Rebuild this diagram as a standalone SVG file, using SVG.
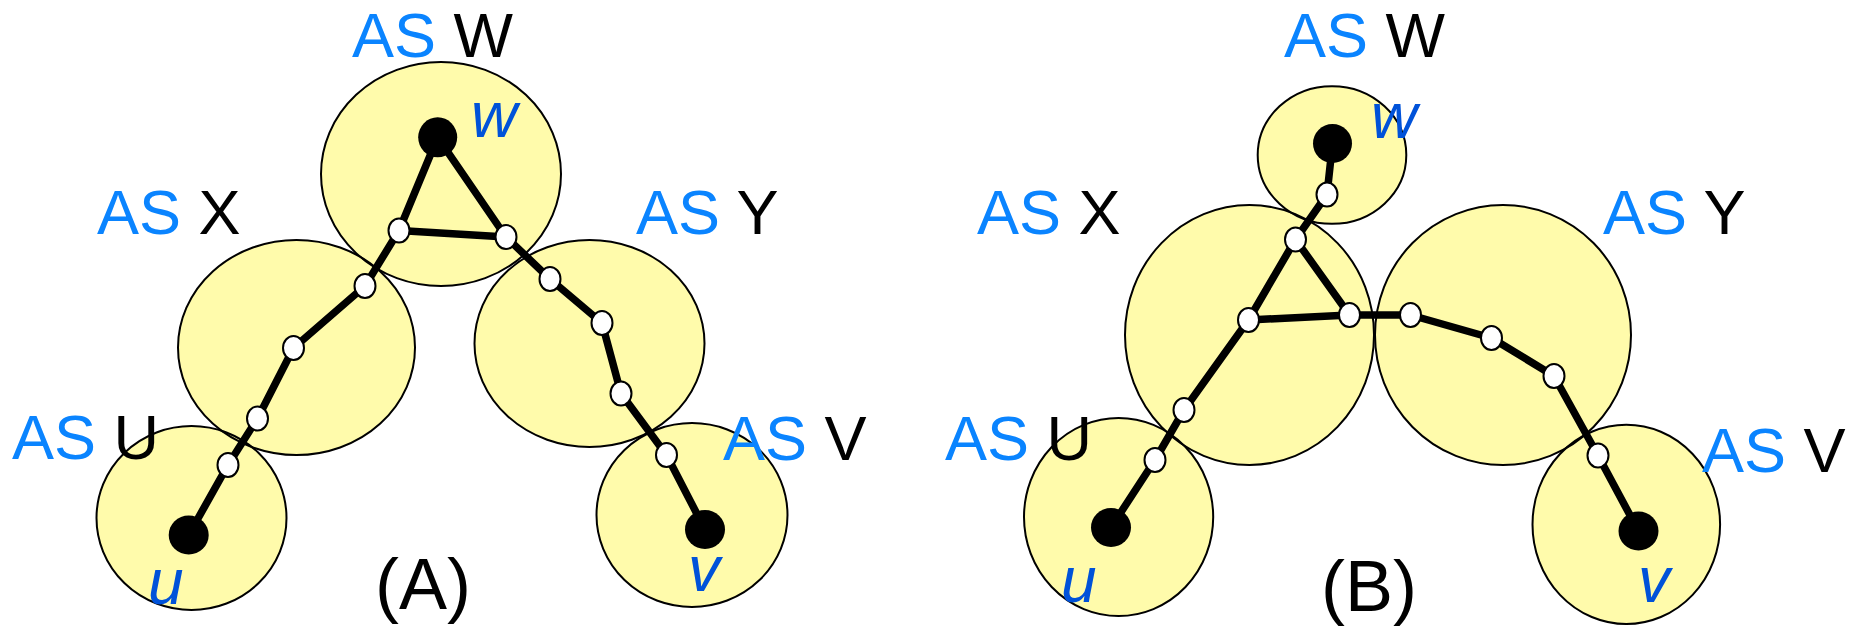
<svg xmlns="http://www.w3.org/2000/svg" xmlns:xlink="http://www.w3.org/1999/xlink" width="1852" height="626" viewBox="0 0 1852 626">
<style>
.asf{fill:#fffbab;stroke:none}
.asl{fill:none;stroke:#000;stroke-width:2}
.e{stroke:#000;stroke-width:7.5;stroke-linecap:round;fill:none}
.r{fill:#000}
.h{fill:#fff;stroke:#000;stroke-width:2}
.lab{font-family:"Liberation Sans",Arial,sans-serif;font-size:63px;fill:#000}
.as{fill:#0a84ff}
.it{font-family:"Liberation Sans",Arial,sans-serif;font-size:64px;font-style:italic;fill:#0052d9}
.cap{font-family:"Liberation Sans",Arial,sans-serif;font-size:72px;fill:#000}
</style>
<rect width="1852" height="626" fill="#fff"/>
<defs>
<ellipse id="aW" cx="441" cy="174" rx="120" ry="112"/>
<ellipse id="aX" cx="296.5" cy="347.5" rx="118.5" ry="107.5"/>
<ellipse id="aY" cx="589.5" cy="343.5" rx="115" ry="103.5"/>
<ellipse id="aU" cx="191.5" cy="518" rx="95" ry="92"/>
<ellipse id="aV" cx="692" cy="515" rx="95.5" ry="92"/>
<ellipse id="bW" cx="1332" cy="155" rx="74.3" ry="68.8"/>
<ellipse id="bX" cx="1249.5" cy="335" rx="124.5" ry="130"/>
<ellipse id="bY" cx="1503" cy="335" rx="128" ry="130"/>
<ellipse id="bU" cx="1118.6" cy="517" rx="94.6" ry="99"/>
<ellipse id="bV" cx="1626.3" cy="524.4" rx="93.8" ry="99.6"/>
</defs>
<g id="A-AS-W"><use xlink:href="#aW" class="asf"/><text class="lab" x="352" y="57"><tspan class="as">AS</tspan> W</text></g>
<g id="A-AS-X"><use xlink:href="#aX" class="asf"/><text class="lab" x="97" y="234"><tspan class="as">AS</tspan> X</text></g>
<g id="A-AS-Y"><use xlink:href="#aY" class="asf"/><text class="lab" x="636" y="234"><tspan class="as">AS</tspan> Y</text></g>
<g id="A-AS-U"><use xlink:href="#aU" class="asf"/><text class="lab" x="12" y="459"><tspan class="as">AS</tspan> U</text></g>
<g id="A-AS-V"><use xlink:href="#aV" class="asf"/></g>
<g id="B-AS-W"><use xlink:href="#bW" class="asf"/><text class="lab" x="1284" y="57"><tspan class="as">AS</tspan> W</text></g>
<g id="B-AS-X"><use xlink:href="#bX" class="asf"/><text class="lab" x="977" y="234"><tspan class="as">AS</tspan> X</text></g>
<g id="B-AS-Y"><use xlink:href="#bY" class="asf"/><text class="lab" x="1603" y="234"><tspan class="as">AS</tspan> Y</text></g>
<g id="B-AS-U"><use xlink:href="#bU" class="asf"/><text class="lab" x="945" y="460"><tspan class="as">AS</tspan> U</text></g>
<g id="B-AS-V"><use xlink:href="#bV" class="asf"/></g>
<g id="as-outlines">
<use xlink:href="#aW" class="asl"/><use xlink:href="#aX" class="asl"/><use xlink:href="#aY" class="asl"/><use xlink:href="#aU" class="asl"/><use xlink:href="#aV" class="asl"/>
<use xlink:href="#bW" class="asl"/><use xlink:href="#bX" class="asl"/><use xlink:href="#bY" class="asl"/><use xlink:href="#bU" class="asl"/><use xlink:href="#bV" class="asl"/>
</g>
<g id="connectors">
<line class="e" x1="437.7" y1="137.3" x2="399" y2="230.5"/>
<line class="e" x1="437.7" y1="137.3" x2="506" y2="237"/>
<line class="e" x1="399" y1="230.5" x2="506" y2="237"/>
<line class="e" x1="399" y1="230.5" x2="365" y2="286"/>
<line class="e" x1="365" y1="286" x2="293.5" y2="348"/>
<line class="e" x1="293.5" y1="348" x2="257.5" y2="418.5"/>
<line class="e" x1="257.5" y1="418.5" x2="228" y2="465"/>
<line class="e" x1="228" y1="465" x2="188.7" y2="535"/>
<line class="e" x1="506" y1="237" x2="550" y2="279"/>
<line class="e" x1="550" y1="279" x2="602" y2="323"/>
<line class="e" x1="602" y1="323" x2="621" y2="393.5"/>
<line class="e" x1="621" y1="393.5" x2="666.5" y2="455"/>
<line class="e" x1="666.5" y1="455" x2="705" y2="529.5"/>
<line class="e" x1="1332.5" y1="143.5" x2="1327" y2="194.5"/>
<line class="e" x1="1327" y1="194.5" x2="1295.5" y2="239.5"/>
<line class="e" x1="1295.5" y1="239.5" x2="1248.5" y2="320"/>
<line class="e" x1="1295.5" y1="239.5" x2="1349.5" y2="315"/>
<line class="e" x1="1248.5" y1="320" x2="1349.5" y2="315"/>
<line class="e" x1="1349.5" y1="315" x2="1410.5" y2="315"/>
<line class="e" x1="1410.5" y1="315" x2="1491.5" y2="338"/>
<line class="e" x1="1491.5" y1="338" x2="1554" y2="376"/>
<line class="e" x1="1554" y1="376" x2="1598" y2="455.5"/>
<line class="e" x1="1598" y1="455.5" x2="1638.5" y2="531"/>
<line class="e" x1="1248.5" y1="320" x2="1184" y2="410"/>
<line class="e" x1="1184" y1="410" x2="1155" y2="460"/>
<line class="e" x1="1155" y1="460" x2="1111" y2="527.5"/>
</g>
<g id="A-w"><ellipse class="r" cx="437.7" cy="137.3" rx="19.5" ry="20"/><text class="it" x="471" y="137">w</text></g>
<g id="A-u"><ellipse class="r" cx="188.7" cy="535" rx="20" ry="19.6"/><text class="it" x="148" y="604">u</text></g>
<g id="A-v"><ellipse class="r" cx="705" cy="529.5" rx="20" ry="19.6"/><text class="it" x="688" y="591">v</text></g>
<g id="A-r1"><ellipse class="h" cx="399" cy="230.5" rx="10.5" ry="12"/></g>
<g id="A-r2"><ellipse class="h" cx="506" cy="237" rx="10.5" ry="12"/></g>
<g id="A-r3"><ellipse class="h" cx="365" cy="286" rx="10.5" ry="12"/></g>
<g id="A-r4"><ellipse class="h" cx="550" cy="279" rx="10.5" ry="12"/></g>
<g id="A-r5"><ellipse class="h" cx="293.5" cy="348" rx="10.5" ry="12"/></g>
<g id="A-r6"><ellipse class="h" cx="602" cy="323" rx="10.5" ry="12"/></g>
<g id="A-r7"><ellipse class="h" cx="257.5" cy="418.5" rx="10.5" ry="12"/></g>
<g id="A-r8"><ellipse class="h" cx="621" cy="393.5" rx="10.5" ry="12"/></g>
<g id="A-r9"><ellipse class="h" cx="228" cy="465" rx="10.5" ry="12"/></g>
<g id="A-r10"><ellipse class="h" cx="666.5" cy="455" rx="10.5" ry="12"/></g>
<g id="B-w"><ellipse class="r" cx="1332.5" cy="143.5" rx="19.5" ry="19.5"/><text class="it" x="1371" y="138">w</text></g>
<g id="B-u"><ellipse class="r" cx="1111" cy="527.5" rx="20" ry="19.6"/><text class="it" x="1061" y="602">u</text></g>
<g id="B-v"><ellipse class="r" cx="1638.5" cy="531" rx="20" ry="19.6"/><text class="it" x="1638" y="602">v</text></g>
<g id="B-r1"><ellipse class="h" cx="1327" cy="194.5" rx="10.5" ry="12"/></g>
<g id="B-r2"><ellipse class="h" cx="1295.5" cy="239.5" rx="10.5" ry="12"/></g>
<g id="B-r3"><ellipse class="h" cx="1248.5" cy="320" rx="10.5" ry="12"/></g>
<g id="B-r4"><ellipse class="h" cx="1349.5" cy="315" rx="10.5" ry="12"/></g>
<g id="B-r5"><ellipse class="h" cx="1410.5" cy="315" rx="10.5" ry="12"/></g>
<g id="B-r6"><ellipse class="h" cx="1491.5" cy="338" rx="10.5" ry="12"/></g>
<g id="B-r7"><ellipse class="h" cx="1554" cy="376" rx="10.5" ry="12"/></g>
<g id="B-r8"><ellipse class="h" cx="1184" cy="410" rx="10.5" ry="12"/></g>
<g id="B-r9"><ellipse class="h" cx="1155" cy="460" rx="10.5" ry="12"/></g>
<g id="B-r10"><ellipse class="h" cx="1598" cy="455.5" rx="10.5" ry="12"/></g>
<g id="labels-top">
<text class="lab" x="723" y="460"><tspan class="as">AS</tspan> V</text>
<text class="lab" x="1702" y="472"><tspan class="as">AS</tspan> V</text>
<text class="cap" x="375" y="609">(A)</text>
<text class="cap" x="1321" y="611">(B)</text>
</g>
</svg>
